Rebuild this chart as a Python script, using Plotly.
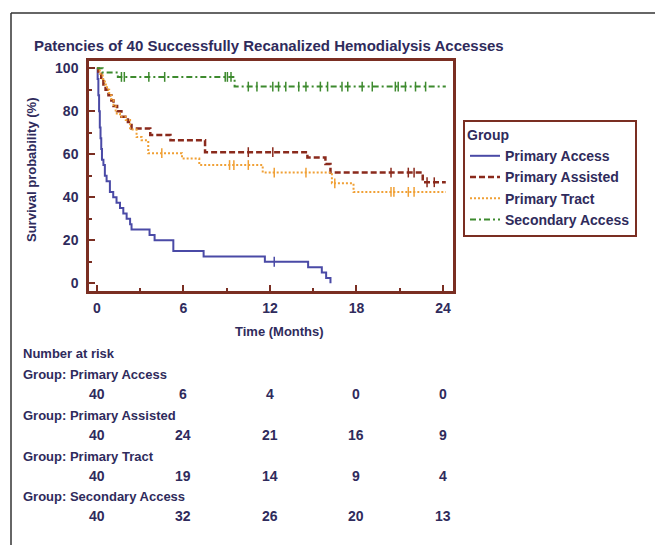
import plotly.graph_objects as go

# ---------------- data ----------------
groups = ["Primary Access", "Primary Assisted", "Primary Tract", "Secondary Access"]

pa_t = [0, 0.05, 0.1, 0.15, 0.2, 0.25, 0.3, 0.35, 0.45, 0.55, 0.67, 0.9, 1.13, 1.36, 1.6, 1.83,
        2.06, 2.3, 2.4, 3.65, 4.0, 5.3, 7.4, 11.65, 14.65, 15.6, 15.9, 16.2]
pa_s = [100, 95, 87.5, 80, 72.5, 67.5, 62.5, 57.5, 55, 50, 47.5, 42.5, 40, 37.5, 35, 32.5,
        30, 27.5, 25, 22.5, 20, 15, 12.5, 10, 7.5, 5, 2.5, 0]
pa_cens = [12.3]

pas_t = [0, 0.1, 0.3, 0.45, 0.6, 0.8, 1.0, 1.15, 1.4, 1.7, 2.15, 2.4, 3.7, 5.1, 7.5, 14.6,
         15.85, 16.2, 22.6, 24.2]
pas_s = [100, 97.5, 95, 92.5, 90, 87.5, 85, 82.5, 80, 77.5, 75, 72, 69, 66.5, 61, 58.5,
         55.5, 51.5, 47, 47]
pas_cens = [10.5, 12.2, 20.4, 21.6, 22.0, 22.9, 23.4]

pt_t = [0, 0.2, 0.4, 0.55, 0.7, 0.85, 1.0, 1.15, 1.3, 1.6, 2.0, 2.3, 2.75, 3.1, 3.56, 5.9,
        7.1, 11.5, 16.3, 17.8, 24.2]
pt_s = [100, 97.5, 95, 92.5, 90, 87.5, 85, 82.5, 79, 77.5, 76, 71.5, 68, 66.5, 60.5, 58,
        55, 51.5, 46.5, 42.5, 42.5]
pt_cens = [4.5, 9.2, 9.5, 10.5, 12.3, 14.5, 16.5, 20.4, 20.6, 21.6, 22.0]

sa_t = [0, 0.4, 1.45, 9.55, 24.2]
sa_s = [100, 98, 96, 91.5, 91.5]
sa_cens = [1.7, 1.9, 3.6, 4.7, 8.9, 9.05, 9.3, 10.5, 11.1, 12.2, 12.6, 13.1, 14.0, 14.5,
           15.5, 16.0, 17.0, 17.4, 18.4, 19.1, 20.7, 20.9, 21.4, 22.1, 22.8]

risk_times = [0, 6, 12, 18, 24]
risk_pa = [40, 6, 4, 0, 0]
risk_pas = [40, 24, 21, 16, 9]
risk_pt = [40, 19, 14, 9, 4]
risk_sa = [40, 32, 26, 20, 13]

x_ticks = [0, 6, 12, 18, 24]
y_ticks = [0, 20, 40, 60, 80, 100]

# ---------------- styling ----------------
colors = ["#4a4aa6", "#8a2a1c", "#f0a035", "#3d8a2e"]
dashes = ["solid", "6px,3px", "2px,2px", "6px,3px,2px,3px"]
widths = [2, 2.5, 2, 2]
txt = "#2f2b5c"
frame = "#7a2e22"
FONT = "Liberation Sans"
OFF = 8  # page offset of the figure inside the browser window


def step_value(ts, ss, t):
    v = ss[0]
    for ti, si in zip(ts, ss):
        if ti <= t:
            v = si
    return v


fig = go.Figure()
series = [(pa_t, pa_s, pa_cens), (pas_t, pas_s, pas_cens), (pt_t, pt_s, pt_cens), (sa_t, sa_s, sa_cens)]
for i, (ts, ss, cens) in enumerate(series):
    fig.add_trace(go.Scatter(
        x=ts, y=ss, mode="lines", name=groups[i],
        line=dict(shape="hv", color=colors[i], width=widths[i], dash=dashes[i]),
    ))
for i, (ts, ss, cens) in enumerate(series):
    fig.add_trace(go.Scatter(
        x=cens, y=[step_value(ts, ss, c) for c in cens], mode="markers", showlegend=False,
        marker=dict(symbol="line-ns", size=7, line=dict(color=colors[i], width=1.5)),
        hoverinfo="skip",
    ))

W, H = 663 - OFF, 545 - OFF
L, T = 89 - OFF, 61 - OFF
PR, PB = 453 - OFF, 291 - OFF
R, B = W - PR, H - PB
pw, ph = PR - L, PB - T


def px2x(px):
    return (px - OFF - L) / pw


def py2y(py):
    return (PB - (py - OFF)) / ph


fb = dict(family=FONT, size=13, color=txt, weight="bold")
fb14 = dict(family=FONT, size=14, color=txt, weight="bold")

fig.update_layout(
    width=W, height=H,
    margin=dict(l=L, r=R, t=T, b=B),
    paper_bgcolor="white", plot_bgcolor="white",
    font=fb,
    showlegend=True,
    legend=dict(
        x=px2x(463), y=py2y(120), xanchor="left", yanchor="top",
        bordercolor=frame, borderwidth=2, bgcolor="white",
        title=dict(text="Group", font=dict(family=FONT, size=14, color=txt, weight="bold")),
        font=dict(family=FONT, size=14, color=txt, weight="bold"),
        tracegroupgap=0,
    ),
    xaxis=dict(
        range=[-0.55, 24.7], tickvals=x_ticks, ticktext=[str(v) for v in x_ticks],
        ticks="inside", ticklen=6, tickwidth=2, tickcolor=frame,
        minor=dict(dtick=3, tick0=0, ticks="inside", ticklen=3, tickwidth=1.5, tickcolor=frame),
        showline=True, linecolor=frame, linewidth=2.5, mirror=True,
        showgrid=False, zeroline=False,
        tickfont=fb14,
        ticklabelstandoff=2,
    ),
    yaxis=dict(
        range=[-3.6, 103.4], tickvals=y_ticks, ticktext=[str(v) for v in y_ticks],
        ticks="inside", ticklen=6, tickwidth=2, tickcolor=frame,
        minor=dict(dtick=10, tick0=0, ticks="inside", ticklen=3, tickwidth=1.5, tickcolor=frame),
        showline=True, linecolor=frame, linewidth=2.5, mirror=True,
        showgrid=False, zeroline=False,
        tickfont=fb14,
        ticklabelstandoff=5,
    ),
)

ann = []
ann.append(dict(text="Patencies of 40 Successfully Recanalized Hemodialysis Accesses",
                x=px2x(32), y=py2y(46), xref="paper", yref="paper",
                xanchor="left", yanchor="middle", showarrow=False,
                font=dict(family=FONT, size=15, color=txt, weight="bold")))
ann.append(dict(text="Survival probability (%)", textangle=-90,
                x=px2x(31), y=py2y(170), xref="paper", yref="paper",
                xanchor="center", yanchor="middle", showarrow=False,
                font=fb))
ann.append(dict(text="Time (Months)", x=px2x(279), y=py2y(331), xref="paper", yref="paper",
                xanchor="center", yanchor="middle", showarrow=False,
                font=fb))

label_rows = [("Number at risk", 353), ("Group: Primary Access", 374), ("Group: Primary Assisted", 415),
              ("Group: Primary Tract", 456), ("Group: Secondary Access", 496)]
for text, py in label_rows:
    ann.append(dict(text=text, x=px2x(21), y=py2y(py), xref="paper", yref="paper",
                    xanchor="left", yanchor="middle", showarrow=False,
                    font=fb))

risk_rows = [(risk_pa, 394), (risk_pas, 435), (risk_pt, 476), (risk_sa, 516)]
for vals, py in risk_rows:
    for t, v in zip(risk_times, vals):
        ann.append(dict(text=str(v), x=t, y=py2y(py), xref="x", yref="paper",
                        xanchor="center", yanchor="middle", showarrow=False,
                        font=fb14))
fig.update_layout(annotations=ann)

# outer frame lines of the figure panel
fig.add_shape(type="line", xref="paper", yref="paper", x0=px2x(11), x1=px2x(680),
              y0=py2y(13), y1=py2y(13), line=dict(color="#333333", width=1.5))
fig.add_shape(type="line", xref="paper", yref="paper", x0=px2x(11), x1=px2x(11),
              y0=py2y(13), y1=py2y(560), line=dict(color="#333333", width=1.5))

fig.write_html("out.html")
